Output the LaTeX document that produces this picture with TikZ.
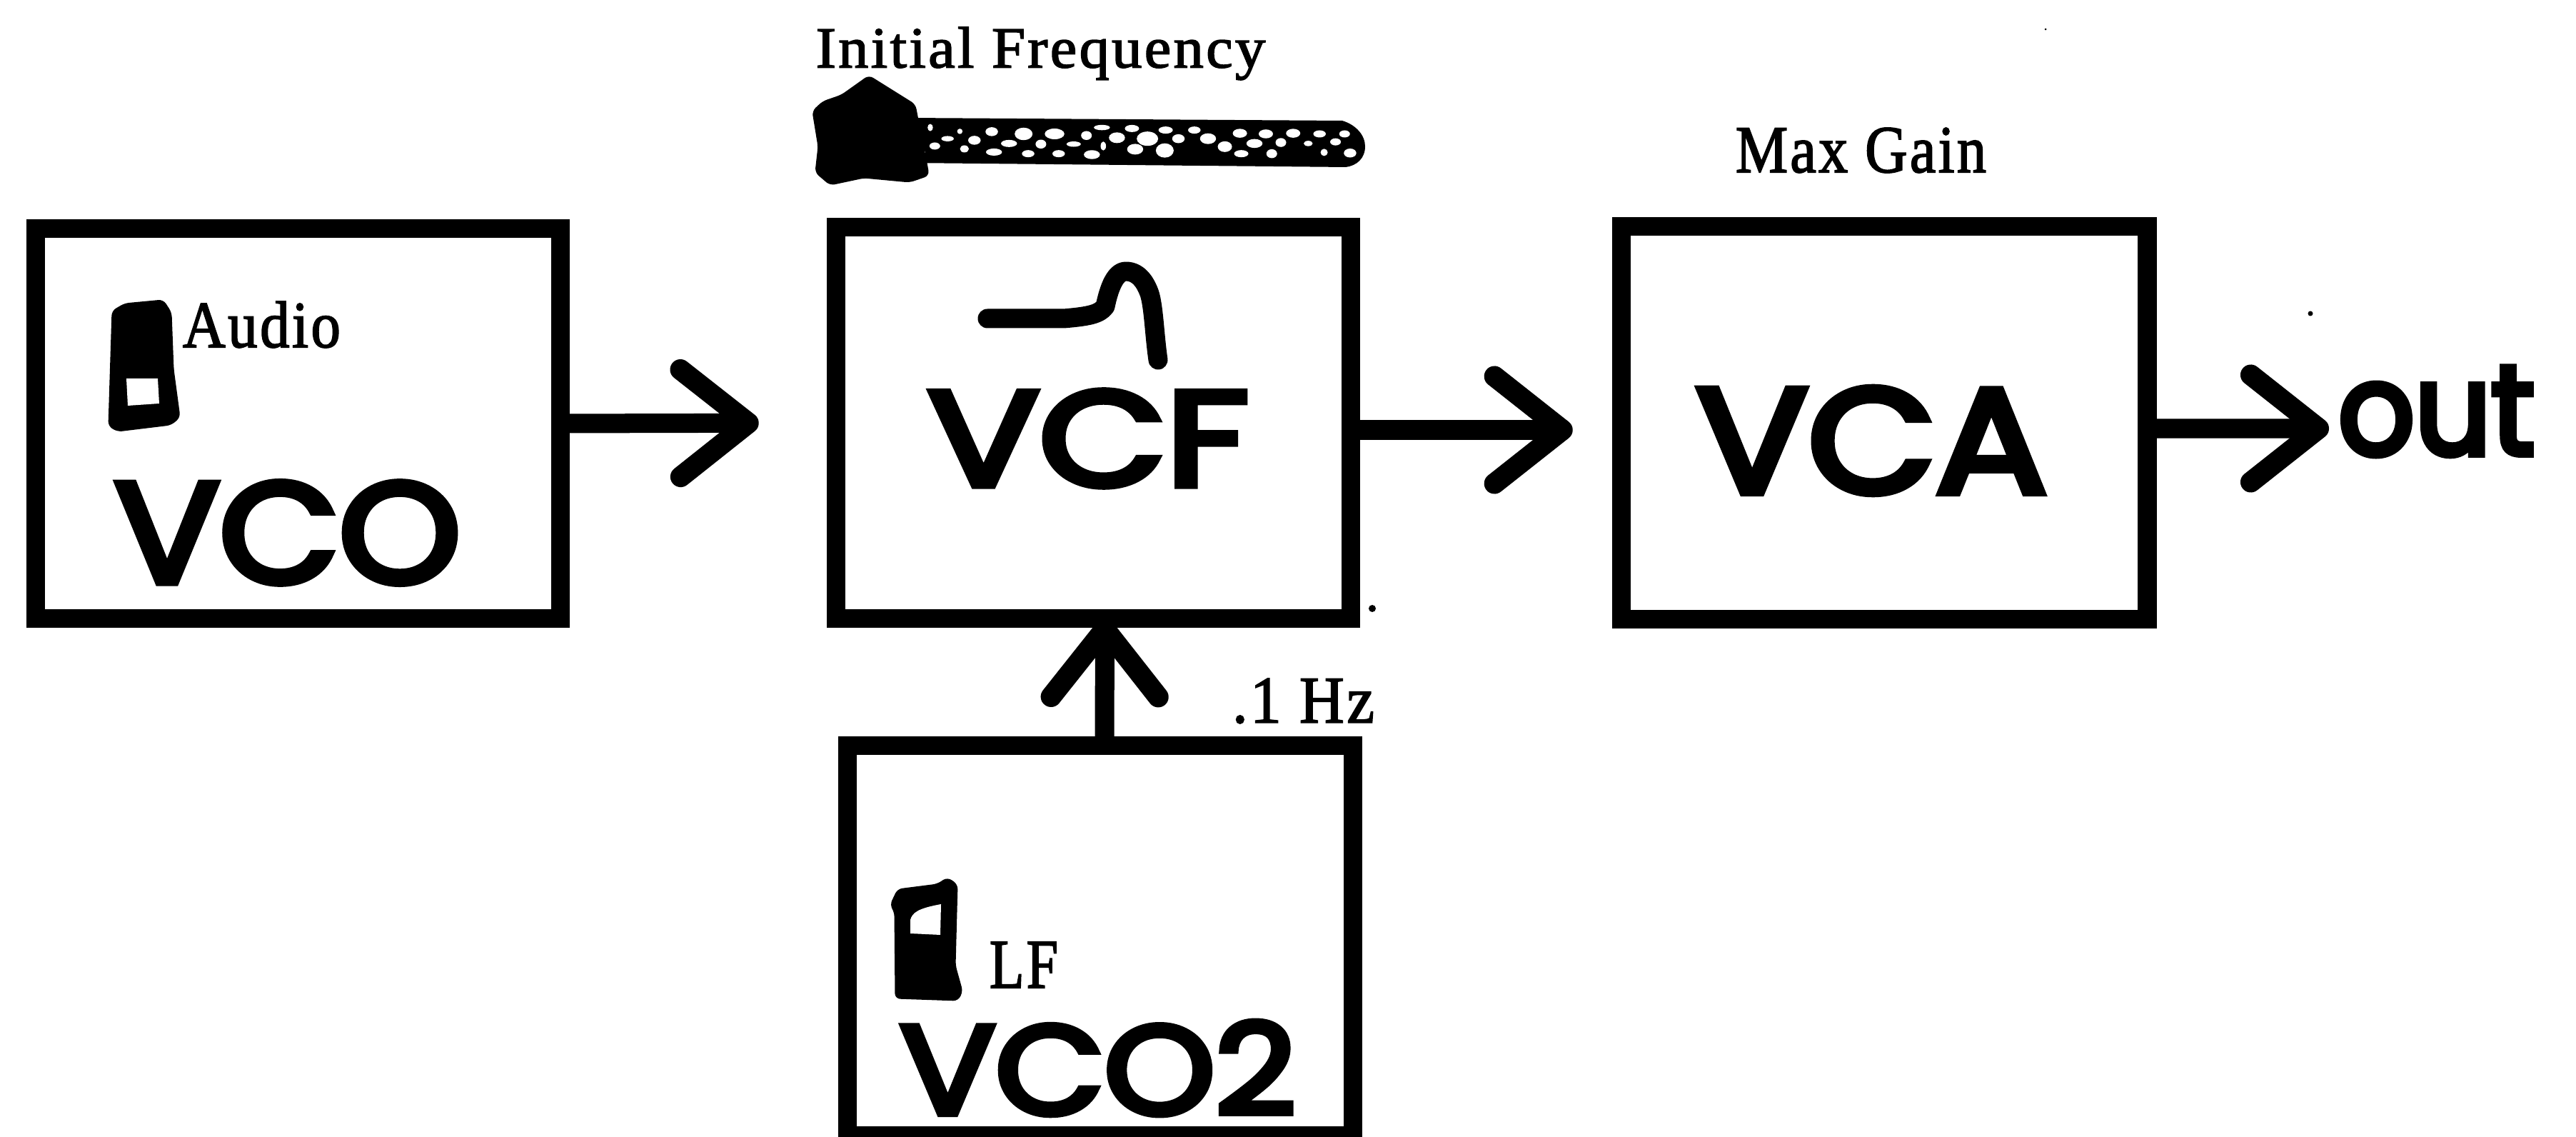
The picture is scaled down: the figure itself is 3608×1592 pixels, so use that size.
\documentclass[tikz,border=0pt]{standalone}
\usepackage{graphicx}
\usepackage{fontspec}
\setmainfont[FakeBold=2,LetterSpace=4]{Liberation Serif}
\newfontfamily\hand[FakeBold=5]{Poppins}
\usetikzlibrary{arrows.meta}
\newcommand{\fitbox}[3]{\resizebox*{#1cm}{#2cm}{#3}}
\tikzset{
  blockbox/.style={draw=black,line width=.265cm,inner sep=0pt,outer sep=0pt,minimum width=#1},
  flow/.style={draw=black,line width=.27cm,-{Straight Barb[length=.95cm,width=1.5cm,line width=.29cm,round]}},
  solid ink/.style={fill=black,draw=black,line width=.03cm,line join=round,rounded corners=.06cm},
  stroke ink/.style={draw=black,line width=.27cm,line cap=round,line join=round},
  label/.style={inner sep=0pt,outer sep=0pt,text=black},
}
\begin{document}
\begin{tikzpicture}[x=.01cm,y=-.01cm]
\useasboundingbox (0,0) rectangle (3608,1592);
\fill[white] (0,0) rectangle (3608,1592);
% blocks
\node[blockbox=7.35cm,minimum height=5.46cm] (vco) at (417.5,593) {};
\node[blockbox=7.21cm,minimum height=5.48cm] (vcf) at (1531.5,592) {};
\node[blockbox=7.36cm,minimum height=5.50cm] (vca) at (2639,592) {};
\node[blockbox=7.08cm,minimum height=5.46cm] (vcot) at (1541,1317) {};
\coordinate (outtip) at (3262,600);
% connectors
\draw[flow,shorten >=1.08cm] (vco.east) -- (vcf.west);
\draw[flow,shorten >=.68cm] ([yshift=-.1cm]vcf.east) -- ([yshift=-.1cm]vca.west);
\draw[flow] ([yshift=-.08cm]vca.east) -- (outtip);
\draw[flow] ([xshift=.06cm]vcot.north) -- ([xshift=.16cm]vcf.south);
% slider
\fill[black] (1270,165) -- (1880,169) .. controls (1900,175) and (1912,190) .. (1912,205)
  .. controls (1912,222) and (1900,232) .. (1885,234) -- (1270,228) -- cycle;
\foreach \a/\b/\c/\d in {610/413/7/5,680/420/10/7,748/420/11/6,818/425/6/5,852/400/9/3,885/432/9/6,918/403/8/4,952/435/12/8,992/408/8/4,1020/435/7/5,1055/408/7/4,1085/435/9/6,1155/418/8/5,1212/420/8/5,1272/418/8/5,1330/420/7/4,1385/420/6/4,1365/445/6/4,1305/450/5/3,1245/447/6/5,1187/450/9/5,1122/460/8/6,990/472/10/8,925/468/9/6,855/458/3/5,790/452/8/3,718/452/6/5,648/450/9/4,572/440/7/5,513/435/7/3,540/412/3/3,485/458/6/4,550/467/5/4,615/477/9/4,690/482/7/4,757/482/7/4,830/485/9/5,1225/482/6/5,1158/482/8/4,1340/478/4/4,1397/480/7/5,475/400/3/4,458/478/3/3}
  \fill[white] ({1000+\a/1.568},{\b/2.24}) ellipse[x radius=\c*.0125cm,y radius=\d*.0125cm];
\draw[solid ink] (1217,107) -- (1281,147) -- (1284,163) -- (1297,228) -- (1300,245) -- (1274,254)
  -- (1210,248) -- (1163,258) -- (1143,241) -- (1147,205) -- (1139,156) -- (1153,143) -- (1179,134) -- cycle;
% switches
\draw[solid ink] (158,436) -- (175,426) -- (228,421) -- (239,438) -- (242,517) -- (251,584)
  -- (239,594) -- (165,603) -- (153,596) -- cycle;
\fill[white] (177,530) -- (221,530) -- (223,565) -- (179,568) -- cycle;
\draw[solid ink] (1248,1267) -- (1258,1246) -- (1313,1239) -- (1327,1230) -- (1340,1239) -- (1337,1352)
  -- (1347,1388) -- (1341,1400) -- (1255,1397) -- (1254,1277) -- cycle;
\fill[white] (1275,1288) .. controls (1278,1278) and (1285,1272) .. (1318,1266) -- (1317,1309) -- (1275,1307) -- cycle;
% filter curve
\draw[stroke ink] (1383,446) -- (1490,446) .. controls (1525,443) and (1540,440) .. (1548,429)
  .. controls (1552,410) and (1560,380) .. (1577,380) .. controls (1597,380) and (1606,400) .. (1610,411)
  .. controls (1616,430) and (1617,470) .. (1622,504);
% specks
\fill[black] (1922,852) circle[radius=.05cm];
\fill[black] (3236,439) circle[radius=.035cm];
\fill[black] (2865,41) circle[radius=.015cm];
% handwritten labels
\node[label] (lvco) at (403,746) {\fitbox{4.84}{1.42}{\hand VCO}};
\node[label] (lvcf) at (1524.5,614) {\fitbox{4.49}{1.34}{\hand VCF}};
\node[label] (lvca) at (2621.5,617) {\fitbox{4.91}{1.48}{\hand VCA}};
\node[label] (lvcot) at (1538,1495.5) {\fitbox{5.54}{1.31}{\hand VCO2}};
\node[label] (lout) at (3412.5,576) {\fitbox{2.75}{1.24}{\hand out}};
% typeset labels
\node[label] (lfreq) at (1457.5,75) {\fitbox{6.29}{.74}{Initial Frequency}};
\node[label] (lgain) at (2606.5,210.5) {\fitbox{3.51}{.63}{Max Gain}};
\node[label] (laudio) at (366.5,454.5) {\fitbox{2.21}{.65}{Audio}};
\node[label] (llf) at (1434,1351) {\fitbox{.96}{.64}{LF}};
\node[label] (lhz) at (1825.5,981.5) {\fitbox{1.99}{.63}{.1 Hz}};
\end{tikzpicture}
\end{document}
